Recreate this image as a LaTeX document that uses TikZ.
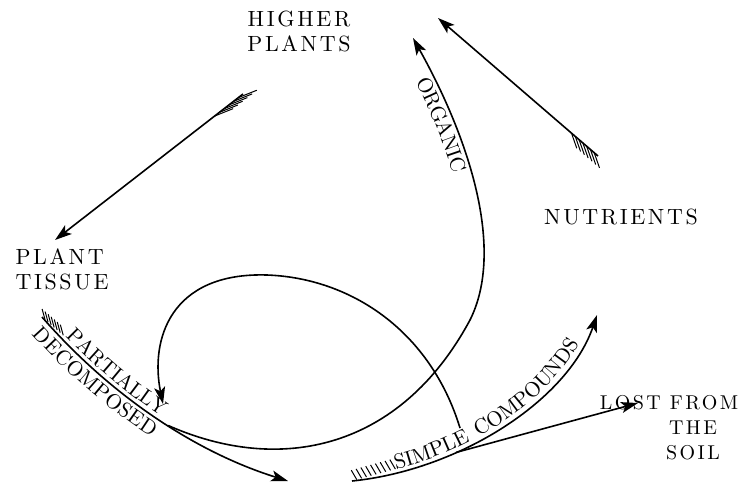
\documentclass[tikz,border=0pt]{standalone}
\usepackage{fontspec}
\newfontfamily\letterfont{lmroman10-regular.otf}[LetterSpace=12]
\usetikzlibrary{arrows.meta,calc,decorations.text}
\newcommand{\namefont}{\letterfont\fontsize{22}{25}\selectfont}
\newcommand{\pathfont}{\letterfont\fontsize{21}{21}\selectfont}
% hatched tail: tail, towards, count, spacing, turn, length
\newcommand{\fletching}[6]{%
  \foreach \k [evaluate=\k as \fd using \k*#4] in {1,...,#3}
    \draw[feather] ($(#1)!\fd pt!(#2)$) coordinate (fp) -- ($(fp)!#6!#5:(#2)$);
}

\begin{document}
\begin{tikzpicture}[x=1pt,y=-1pt]
    \tikzset{
      station/.style={font=\namefont,align=center,inner sep=0pt},
      flow/.style={line width=1.6pt,-{Stealth[length=17pt,width=11pt,inset=4pt]}},
      feather/.style={line width=1pt}
    }
    \fill[white] (0,0) rectangle (743,483);
    \useasboundingbox (0,0) rectangle (743,483);

    \node[station] (plants) at (299,31) {HIGHER\\PLANTS};
    \node[station] (nutrients) at (621,217) {NUTRIENTS};
    \node[station,align=left] (tissue) at (62,269) {PLANT\\TISSUE};
    \node[station,font=\letterfont\fontsize{20}{25}\selectfont] (lost) at (669,428)
      {LOST FROM\\\hspace*{48pt}THE\\\hspace*{48pt}SOIL};

    \coordinate (plantsout) at (243,94);
    \coordinate (tissuein) at (55,240);
    \coordinate (nutout) at (598,156);
    \coordinate (plantsin) at (438,18);
    \coordinate (pdtail) at (42,317);
    \coordinate (pdtip) at (288,481);
    \coordinate (orgbend) at (470,320);
    \coordinate (orgtip) at (413,38);
    \coordinate (loopstart) at (460,428);
    \coordinate (looptop) at (267,275);
    \coordinate (looptip) at (163,404);
    \coordinate (sctail) at (352,481);
    \coordinate (sctip) at (597,315);
    \coordinate (losttip) at (638,403);

    \draw[flow] (plantsout) -- (tissuein);
    \draw[flow] (nutout) -- (plantsin);
    \draw[flow] (pdtail) .. controls (110,395) and (195,452) .. (pdtip) coordinate[pos=0.55] (orgfork);
    \draw[flow] (orgfork) .. controls (280,475) and (400,450) .. (orgbend)
      .. controls (505,250) and (470,140) .. (orgtip);
    \draw[flow] (loopstart) .. controls (430,330) and (350,278) .. (looptop)
      .. controls (170,272) and (150,340) .. (looptip);
    \draw[flow] (sctail) .. controls (460,470) and (568,400) .. (sctip) coordinate[pos=0.33] (lostfork);
    \draw[flow] (lostfork) -- (losttip);

    \fletching{plantsout}{tissuein}{6}{6}{164}{20pt}
    \fletching{nutout}{plantsin}{7}{5}{150}{16pt}
    \fletching{pdtail}{orgfork}{7}{4}{146}{11pt}
    \fletching{sctail}{lostfork}{9}{5}{105}{11pt}

    % labels along the arrows
    \path[decorate,decoration={text along path,text={|\pathfont|ORGANIC},
      text align={left indent=40pt},raise=-18pt}]
      (orgtip) .. controls (470,140) and (505,250) .. (orgbend);
    \path[decorate,decoration={text along path,text={|\pathfont|PARTIALLY},
      text align={left indent=30pt},raise=4pt}]
      (pdtail) .. controls (110,395) and (195,452) .. (pdtip);
    \path[decorate,decoration={text along path,text={|\pathfont|DECOMPOSED},
      text align={left indent=6pt},raise=-19pt}]
      (pdtail) .. controls (110,395) and (195,452) .. (pdtip);
    \path[decorate,decoration={text along path,text={|\pathfont|SIMPLE COMPOUNDS},
      text align={left indent=46pt},raise=4pt}]
      (sctail) .. controls (460,470) and (568,400) .. (sctip);
  \end{tikzpicture}
\end{document}
